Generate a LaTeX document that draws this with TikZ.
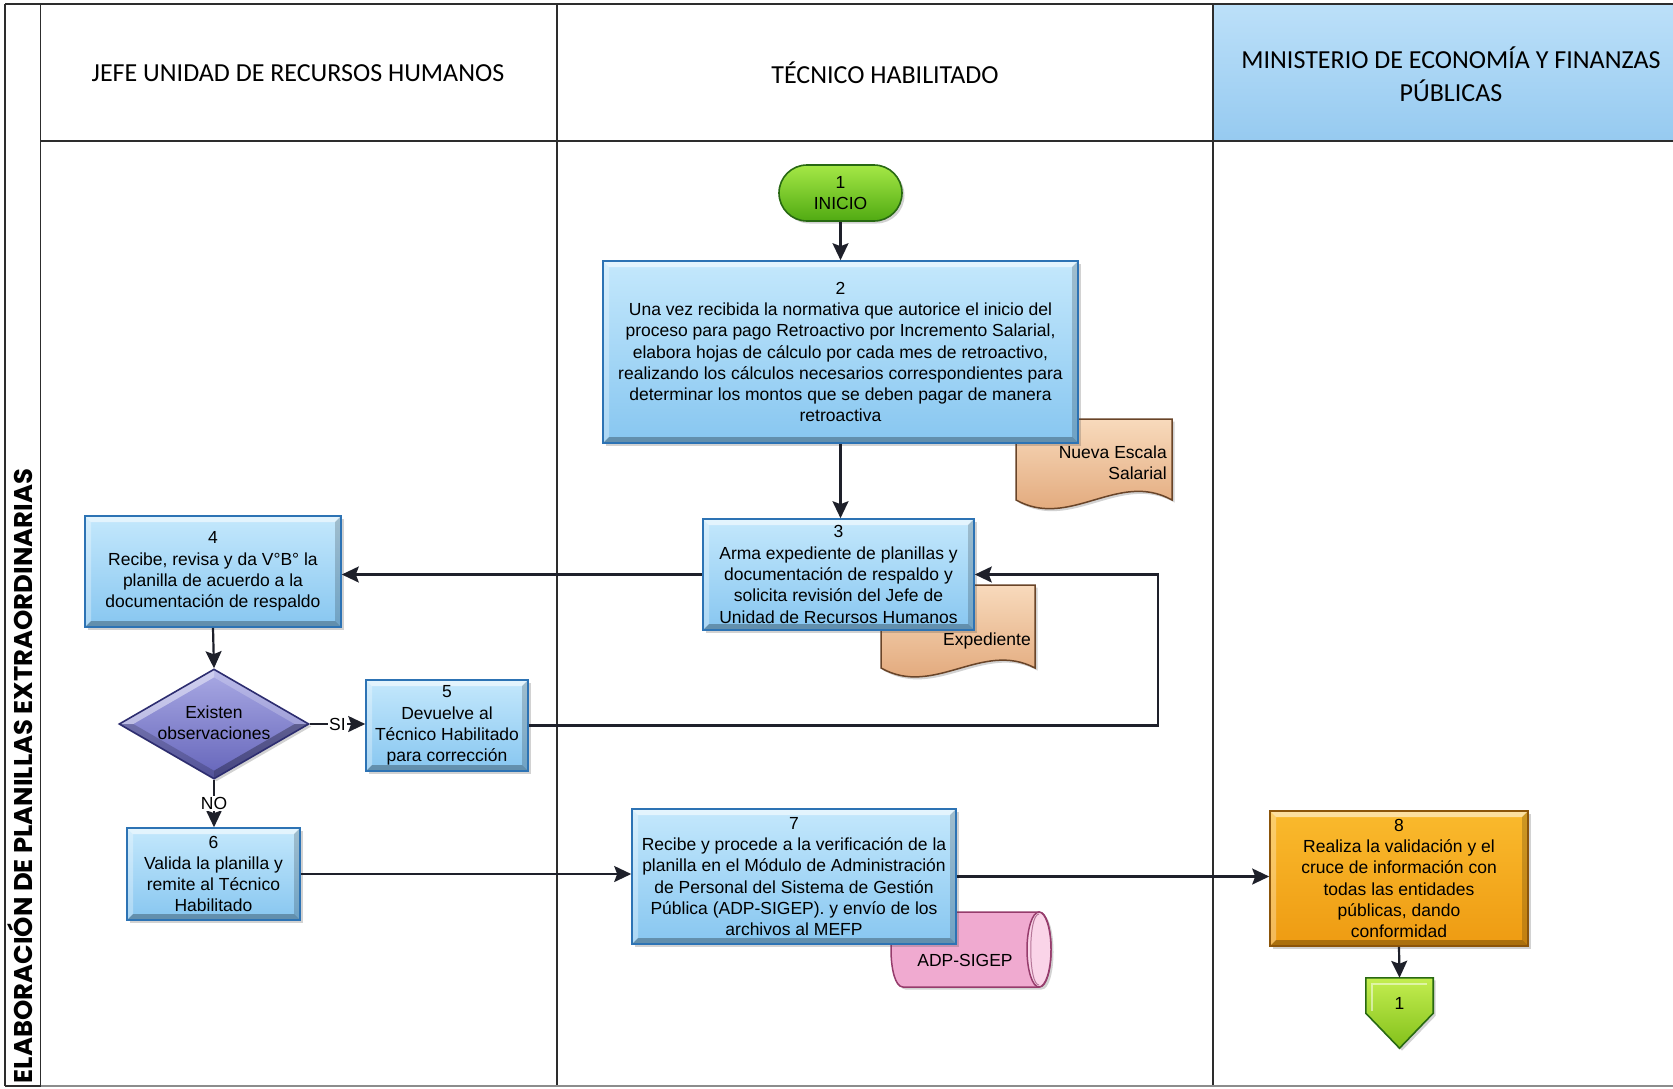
\documentclass[tikz,border=0pt]{standalone}
\usepackage{fontspec}
\setmainfont{Liberation Sans}
\newfontfamily\hdrfont{Carlito}
\newfontfamily\ttlfont{Poppins}
\usetikzlibrary{arrows.meta,shapes.geometric,shapes.misc,calc,shadows}

\definecolor{gridline}{RGB}{45,45,45}
\definecolor{linkc}{RGB}{30,32,42}
\definecolor{procTop}{RGB}{196,232,252}
\definecolor{procBot}{RGB}{135,198,240}
\definecolor{procEdge}{RGB}{45,115,180}
\definecolor{hdrTop}{RGB}{188,224,249}
\definecolor{hdrBot}{RGB}{150,202,240}
\definecolor{goTop}{RGB}{165,232,70}
\definecolor{goBot}{RGB}{80,170,18}
\definecolor{goEdge}{RGB}{40,105,18}
\definecolor{decTop}{RGB}{170,170,228}
\definecolor{decBot}{RGB}{100,100,186}
\definecolor{decEdge}{RGB}{45,45,112}
\definecolor{mefTop}{RGB}{250,186,45}
\definecolor{mefBot}{RGB}{238,155,18}
\definecolor{mefEdge}{RGB}{140,85,10}
\definecolor{docTop}{RGB}{248,218,188}
\definecolor{docBot}{RGB}{222,160,112}
\definecolor{docEdge}{RGB}{105,68,40}
\definecolor{dbFill}{RGB}{240,170,208}
\definecolor{dbLight}{RGB}{250,212,232}
\definecolor{dbEdge}{RGB}{150,60,108}
\definecolor{offTop}{RGB}{196,238,80}
\definecolor{offBot}{RGB}{130,192,26}

\newcommand\boxfont{\fontsize{17.5pt}{21.3pt}\selectfont}
\newcommand\lanefont{\hdrfont\fontsize{26pt}{33pt}\selectfont}

\tikzset{
  bevel/.style={path picture={
    \path (path picture bounding box.north west) coordinate (bvA)
          (path picture bounding box.north east) coordinate (bvB)
          (path picture bounding box.south east) coordinate (bvC)
          (path picture bounding box.south west) coordinate (bvD);
    \fill[white,opacity=.55] (bvA) -- (bvB) -- ([shift={(-#1,-#1)}]bvB) -- ([shift={(#1,-#1)}]bvA) -- cycle;
    \fill[white,opacity=.3] (bvA) -- ([shift={(#1,-#1)}]bvA) -- ([shift={(#1,#1)}]bvD) -- (bvD) -- cycle;
    \fill[black,opacity=.28] (bvD) -- ([shift={(#1,#1)}]bvD) -- ([shift={(-#1,#1)}]bvC) -- (bvC) -- cycle;
    \fill[black,opacity=.18] (bvB) -- (bvC) -- ([shift={(-#1,#1)}]bvC) -- ([shift={(-#1,-#1)}]bvB) -- cycle;
  }},
  bevel/.default=6pt,
  diabevel/.style={path picture={
    \path (path picture bounding box.north) coordinate (dN)
          (path picture bounding box.south) coordinate (dS)
          (path picture bounding box.east) coordinate (dE)
          (path picture bounding box.west) coordinate (dW);
    \fill[white,opacity=.45] (dW) -- (dN) -- ([yshift=-8pt]dN) -- ([xshift=14pt]dW) -- cycle;
    \fill[white,opacity=.22] (dN) -- (dE) -- ([xshift=-14pt]dE) -- ([yshift=-8pt]dN) -- cycle;
    \fill[black,opacity=.3] (dE) -- (dS) -- ([yshift=8pt]dS) -- ([xshift=-14pt]dE) -- cycle;
    \fill[black,opacity=.18] (dS) -- (dW) -- ([xshift=14pt]dW) -- ([yshift=8pt]dS) -- cycle;
  }},
  softshadow/.style={drop shadow={shadow xshift=2.5pt,shadow yshift=-2.5pt,opacity=.25,fill=black!70}},
  proc/.style={rectangle, draw=procEdge, line width=1.6pt, top color=procTop, bottom color=procBot,
    bevel, softshadow, align=center, inner sep=0pt, font=\boxfont, text=black},
  mef/.style={proc, draw=mefEdge, top color=mefTop, bottom color=mefBot},
  go/.style={rounded rectangle, draw=goEdge, line width=1.6pt, top color=goTop, bottom color=goBot,
    softshadow, align=center, inner sep=0pt, font=\boxfont},
  decision/.style={diamond, draw=decEdge, line width=1.6pt, top color=decTop, bottom color=decBot,
    diabevel, softshadow, inner sep=0pt},
  txt/.style={align=center, inner sep=0pt, font=\boxfont},
  doctxt/.style={align=right, inner sep=0pt, font=\boxfont, anchor=east},
  docsheet/.style={draw=docEdge, line width=1.5pt, top color=docTop, bottom color=docBot, softshadow},
  lane/.style={inner sep=0pt, align=center, font=\lanefont},
  grid/.style={draw=gridline, line width=1.3pt},
  arr/.style={draw=linkc, line width=2.2pt, -{Stealth[length=17pt,width=16pt,inset=3pt]}},
  lbl/.style={fill=white, inner sep=1.5pt, font=\boxfont},
}

\begin{document}
\begin{tikzpicture}[x=1pt,y=-1pt]
\useasboundingbox (0,0) rectangle (1673,1088);
\fill[white] (0,0) rectangle (1673,1088);

% header band of the ministry lane
\shade[top color=hdrTop, bottom color=hdrBot] (1213,4) rectangle (1673,141);

% table frame and lane dividers
\draw[grid] (5,4) -- (1673,4);
\draw[grid] (5,4) -- (5,1086);
\draw[grid] (40.5,4) -- (40.5,1086);
\draw[grid] (40.5,141) -- (1673,141);
\draw[grid] (557,4) -- (557,1086);
\draw[grid] (1213,4) -- (1213,1086);
\draw[grid] (5,1086) -- (40.5,1086);
\draw[draw=black!45, line width=1.1pt] (40.5,1086) -- (1673,1086);

% lane titles
\node[lane] (h1) at (298,73) {JEFE UNIDAD DE RECURSOS HUMANOS};
\node[lane] (h2) at (885,73) {TÉCNICO HABILITADO};
\node[lane] (h3) at (1451,74) {MINISTERIO DE ECONOMÍA Y FINANZAS\\PÚBLICAS};

% process title
\node[rotate=90, inner sep=0pt] (title) at (20.5,776)
  {\resizebox{614pt}{25pt}{\ttlfont\bfseries ELABORACIÓN DE PLANILLAS EXTRAORDINARIAS}};

% documents and data store (behind the process boxes)
\path[docsheet] (1016,419) -- (1172,419) -- (1172,500)
  .. controls (1118,470) and (1070,530) .. (1016,500) -- cycle;
\node[doctxt] (d1) at (1167,463) {Nueva Escala\\Salarial};

\path[docsheet] (881,585) -- (1035,585) -- (1035,668)
  .. controls (982,640) and (934,698) .. (881,668) -- cycle;
\node[doctxt] (d2) at (1031,641) {Expediente};

\path[draw=dbEdge, line width=1.5pt, fill=dbFill, softshadow]
  (903,912) -- (1039,912) .. controls (1055,912) and (1055,987) .. (1039,987)
  -- (903,987) .. controls (887,987) and (887,912) .. (903,912) -- cycle;
\draw[draw=dbEdge, line width=1.5pt, fill=dbLight] (1039,949.5) ellipse [x radius=12, y radius=37.5];
\draw[draw=dbEdge!70, line width=1pt] (1039,914) .. controls (1028,914) and (1028,985) .. (1039,985);
\node[txt] (db) at (965,960) {ADP-SIGEP};

% process steps
\node[go, minimum width=123, minimum height=56] (n1) at (840.5,193) {1\\INICIO};

\node[proc, minimum width=475, minimum height=182] (n2) at (840.5,352)
  {2\\Una vez recibida la normativa que autorice el inicio del\\proceso para pago Retroactivo por Incremento Salarial,\\elabora hojas de cálculo por cada mes de retroactivo,\\realizando los cálculos necesarios correspondientes para\\determinar los montos que se deben pagar de manera\\retroactiva};

\node[proc, minimum width=271, minimum height=111] (n3) at (838.5,574.5)
  {3\\Arma expediente de planillas y\\documentación de respaldo y\\solicita revisión del Jefe de\\Unidad de Recursos Humanos};

\node[proc, minimum width=256, minimum height=111] (n4) at (213,571.5)
  {4\\Recibe, revisa y da V°B° la\\planilla de acuerdo a la\\documentación de respaldo};

\node[decision, minimum width=190, minimum height=110] (dec) at (214,724) {};
\node[txt] (decT) at (214,723) {Existen\\observaciones};

\node[proc, minimum width=162, minimum height=91] (n5) at (447,725.5)
  {5\\Devuelve al\\Técnico Habilitado\\para corrección};

\node[proc, minimum width=173, minimum height=92] (n6) at (213.5,874)
  {6\\Valida la planilla y\\remite al Técnico\\Habilitado};

\node[proc, minimum width=324, minimum height=135] (n7) at (794,876.5)
  {7\\Recibe y procede a la verificación de la\\planilla en el Módulo de Administración\\de Personal del Sistema de Gestión\\Pública (ADP-SIGEP). y envío de los\\archivos al MEFP};

\node[mef, minimum width=258, minimum height=135] (n8) at (1399,878.5)
  {8\\Realiza la validación y el\\cruce de información con\\todas las entidades\\públicas, dando\\conformidad};

% off-page connector
\path node[inner sep=0pt, minimum width=67, minimum height=35] (off) at (1399.5,995.5) {};
\path[draw=goEdge, line width=1.6pt, top color=offTop, bottom color=offBot, softshadow]
  (off.north west) -- (off.north east) -- (off.south east) -- ($(off.south)+(0,35)$)
  -- (off.south west) -- cycle;
\draw[white, opacity=.5, line width=2pt] ($(off.south west)+(6,-2)$) -- ($(off.north west)+(6,6)$) -- ($(off.north east)+(-6,6)$);
\node[txt] (offT) at (1399.5,1003) {1};

% connectors
\coordinate (loopx) at (1158,0);
\draw[arr] (n1.south) -- (n2.north);
\draw[arr] (n2.south) -- (n2.south |- n3.north);
\draw[arr] (n3.west) -- (n3.west -| n4.east);
\draw[arr] (n4.south) -- (dec.north);
\draw[arr] (dec.east) -- node[lbl] {SI} (dec.east -| n5.west);
\draw[arr] (n5.east) -- (n5.east -| loopx) |- (n3.east);
\draw[arr] (dec.south) -- node[lbl] {NO} (dec.south |- n6.north);
\draw[arr] (n6.east) -- (n6.east -| n7.west);
\draw[arr] (n7.east) -- (n7.east -| n8.west);
\draw[arr] (n8.south) -- (off.north);
\end{tikzpicture}
\end{document}
